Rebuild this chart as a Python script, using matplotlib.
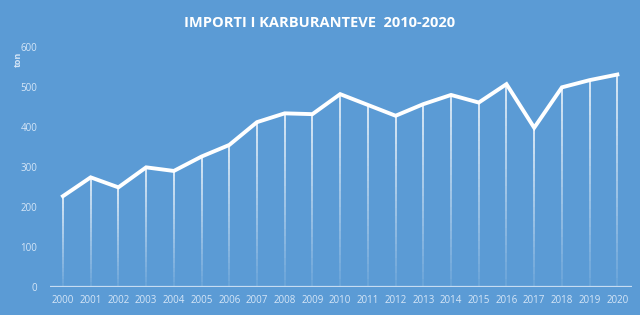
import matplotlib
matplotlib.use("Agg")
import matplotlib.pyplot as plt
import numpy as np
from matplotlib.collections import LineCollection

years = list(range(2000, 2021))
values = [227, 274, 249, 299, 290, 326, 355, 412, 434, 432, 482,
          455, 428, 457, 480, 461, 507, 398, 499, 517, 531]
yticks = [0, 100, 200, 300, 400, 500, 600]
title = "IMPORTI I KARBURANTEVE  2010-2020"
ylabel = "ton"

bg = "#5b9bd5"
fig = plt.figure(figsize=(6.4, 3.15), dpi=100, facecolor=bg)
ax = fig.add_axes([0.078, 0.089, 0.91, 0.762])
ax.set_facecolor(bg)

# drop lines fading toward the bottom
segs, cols = [], []
nseg = 24
for x, v in zip(years, values):
    edges = np.linspace(0, v, nseg + 1)
    for i in range(nseg):
        segs.append([(x, edges[i]), (x, edges[i + 1])])
        t = (i + 0.5) / nseg
        a = 0.08 + 0.82 * t ** 0.9
        cols.append((1, 1, 1, a))
ax.add_collection(LineCollection(segs, colors=cols, linewidths=1.2, zorder=2))

ax.plot(years, values, color="white", lw=2.8, solid_joinstyle="miter", zorder=3)

ax.axhline(0, color="#c6dcf2", lw=1.6, zorder=2)

ax.set_xlim(1999.53, 2020.54)
ax.set_ylim(0, 600)
ax.set_yticks(yticks)
ax.set_xticks(years)
ax.tick_params(length=0, colors="#d6e6f7", labelsize=7)
ax.tick_params(axis="y", pad=9)
ax.tick_params(axis="x", pad=6)
for lab in ax.get_xticklabels() + ax.get_yticklabels():
    lab.set_fontfamily("Open Sans")
for s in ax.spines.values():
    s.set_visible(False)

fig.text(0.5, 0.928, title, ha="center", va="center", color="white",
         fontsize=10.5, fontweight="bold", family="Open Sans")
fig.text(0.028, 0.81, ylabel, rotation=90, ha="center", va="center",
         color="#d6e6f7", fontsize=6.5, fontweight="bold", family="Open Sans")

fig.savefig("out.png", dpi=100, facecolor=bg)
